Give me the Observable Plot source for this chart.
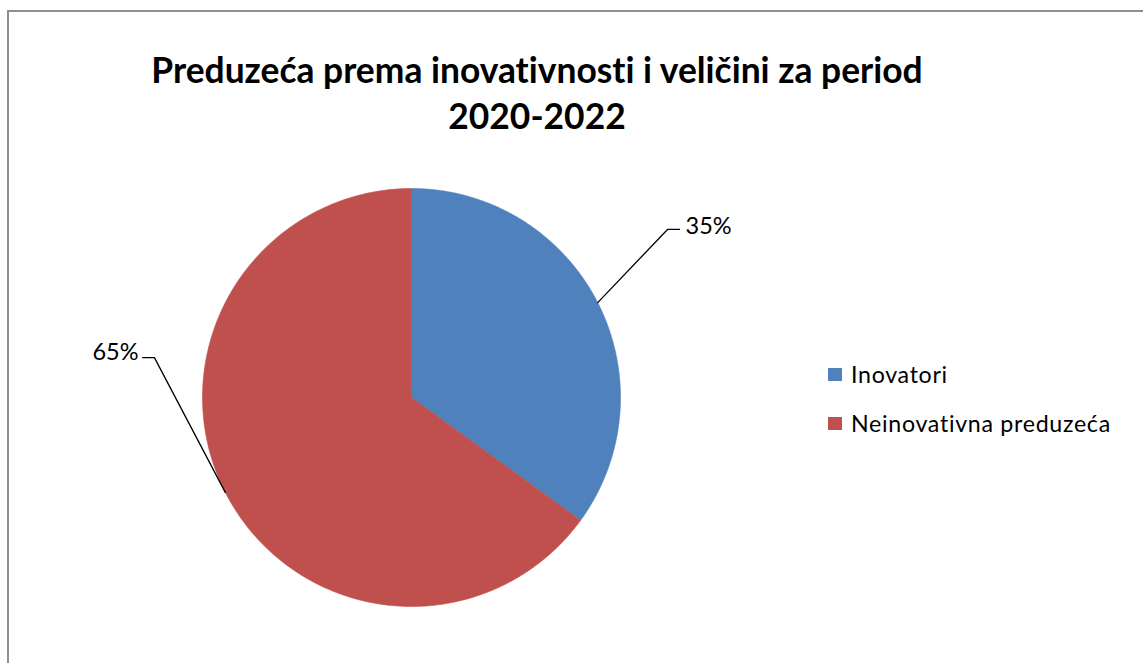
<!DOCTYPE html>
<html>
<head>
<meta charset="utf-8">
<script src="https://cdn.jsdelivr.net/npm/d3@7"></script>
<script src="https://cdn.jsdelivr.net/npm/@observablehq/plot@0.6"></script>
<style>
  html, body { margin: 0; padding: 0; background: #fff; }
  #wrap { position: relative; width: 1143px; height: 663px; overflow: hidden; background: #fff; }
  #frame { position: absolute; left: 7px; top: 10px; width: 1200px; height: 700px;
           border-left: 2px solid #8e8e8e; border-top: 2px solid #8e8e8e; box-sizing: border-box; }
  #title { position: absolute; left: 0; width: 1074px; top: 47px; text-align: center;
           font-family: Lato, sans-serif; font-weight: 700; font-size: 35.4px; line-height: 46px; color: #000;
           font-variant-ligatures: none; }
  #chart { position: absolute; left: 0; top: 0; }
  .leg { position: absolute; left: 828px; font-family: Lato, sans-serif; font-size: 23.2px; line-height: 28px; color: #000;
         white-space: nowrap; letter-spacing: 0.7px; font-variant-ligatures: none; }
  .leg .sw { position: absolute; left: 0; width: 14px; height: 13px; }
  .leg .lb { position: absolute; left: 23px; top: 0; }
</style>
</head>
<body>
<div id="wrap">
  <div id="frame"></div>
  <div id="title">Preduzeća prema inovativnosti i veličini za period<br>2020-2022</div>
  <div id="chart"></div>
</div>
<script>
// ---- data ----
const categories = ["Inovatori", "Neinovativna preduzeća"];
const shares = [35, 65];
const colors = ["#4F81BD", "#C0504D"];

// ---- label layout (pie-radius units, y up) ----
const labelLayout = [
  {elbowX: 1.225, elbowY: 0.804, endX: 1.282, textX: 1.311, textY: 0.818, anchor: "start"},
  {elbowX: -1.230, elbowY: 0.191, endX: -1.287, textX: -1.306, textY: 0.215, anchor: "end"}
];

const total = d3.sum(shares);
// angles clockwise from 12 o'clock
let acc = 0;
const slices = categories.map((name, i) => {
  const a0 = acc / total * 2 * Math.PI;
  acc += shares[i];
  const a1 = acc / total * 2 * Math.PI;
  return {name, value: shares[i], a0, a1, mid: (a0 + a1) / 2};
});

const poly = [];
for (const s of slices) {
  poly.push({name: s.name, x: 0, y: 0});
  const n = 240;
  for (let k = 0; k <= n; k++) {
    const a = s.a0 + (s.a1 - s.a0) * k / n;
    poly.push({name: s.name, x: Math.sin(a), y: Math.cos(a)});
  }
  poly.push({name: s.name, x: 0, y: 0});
}

const leaders = [];
const labels = [];
slices.forEach((s, i) => {
  const L = labelLayout[i];
  leaders.push({name: s.name, x: Math.sin(s.mid), y: Math.cos(s.mid)});
  leaders.push({name: s.name, x: L.elbowX, y: L.elbowY});
  leaders.push({name: s.name, x: L.endX, y: L.elbowY});
  labels.push({name: s.name, x: L.textX, y: L.textY, text: Math.round(s.value / total * 100) + "%", anchor: L.anchor});
});

const cx = 411, cy = 397, r = 209;
const plot = Plot.plot({
  width: 1143,
  height: 663,
  margin: 0,
  x: {domain: [-1, 1], range: [cx - r, cx + r], axis: null},
  y: {domain: [-1, 1], range: [cy + r, cy - r], axis: null},
  color: {domain: categories, range: colors},
  style: {background: "transparent", overflow: "visible"},
  marks: [
    Plot.line(poly, {x: "x", y: "y", z: "name", fill: "name", stroke: "name", strokeWidth: 0.6, curve: "linear"}),
    Plot.line(leaders, {x: "x", y: "y", z: "name", stroke: "#000", strokeWidth: 1.3, curve: "linear"}),
    Plot.text(labels.filter(d => d.anchor === "start"), {x: "x", y: "y", text: "text", textAnchor: "start", fontSize: 23.5, fontFamily: "Lato", fill: "#000"}),
    Plot.text(labels.filter(d => d.anchor === "end"), {x: "x", y: "y", text: "text", textAnchor: "end", fontSize: 23.5, fontFamily: "Lato", fill: "#000"})
  ]
});
document.getElementById("chart").appendChild(plot);

// legend
const wrap = document.getElementById("wrap");
const legTops = [360, 409];
categories.forEach((c, i) => {
  const d = document.createElement("div");
  d.className = "leg";
  d.style.top = legTops[i] + "px";
  d.innerHTML = `<span class="sw" style="background:${colors[i]};top:8px"></span><span class="lb">${c}</span>`;
  wrap.appendChild(d);
});
</script>
</body>
</html>
